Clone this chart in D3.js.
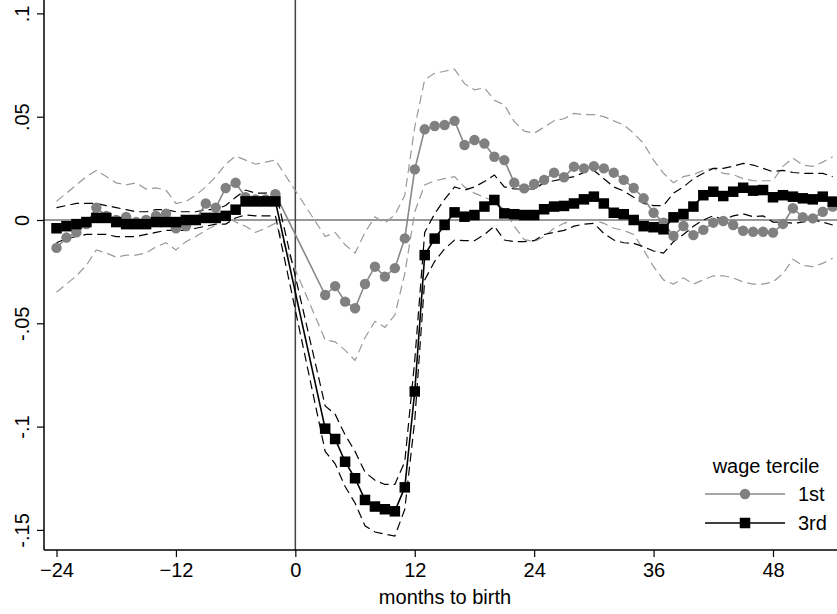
<!DOCTYPE html>
<html><head><meta charset="utf-8">
<script src="https://cdn.jsdelivr.net/npm/d3@7"></script>
<style>
body{margin:0;background:#fff;}
svg{display:block;}
text{font-family:"Liberation Sans",Arial,sans-serif;fill:#000;}
</style>
</head><body>
<svg id="chart" width="837" height="614"></svg>
<script>
// ---- data (months to birth; months -1 to 2 are not reported) ----
const months = [-24,-23,-22,-21,-20,-19,-18,-17,-16,-15,-14,-13,-12,-11,-10,-9,-8,-7,-6,-5,-4,-3,-2,
  3,4,5,6,7,8,9,10,11,12,13,14,15,16,17,18,19,20,21,22,23,24,25,26,27,28,29,30,31,32,33,34,35,36,37,38,39,40,41,42,43,44,45,46,47,48,49,50,51,52,53,54];

const tercile1 = [-0.0135,-0.0085,-0.006,-0.002,0.006,0.002,0.000,0.0015,-0.001,0.000,0.002,0.003,-0.004,-0.003,0.000,0.008,0.006,0.0155,0.018,0.011,0.010,0.010,0.0125,
  -0.0363,-0.032,-0.0395,-0.0427,-0.031,-0.0226,-0.0274,-0.0233,-0.0089,0.0245,
  0.0439,0.0455,0.046,0.048,0.0363,0.0387,0.037,0.0306,0.029,0.018,
  0.0153,0.0174,0.0194,0.0229,0.0207,0.0258,0.025,0.026,0.025,0.0229,
  0.0194,0.0155,0.0105,0.0035,-0.0013,-0.0077,-0.0029,-0.0073,-0.0048,-0.0013,
  -0.0005,-0.0024,-0.0052,-0.0057,-0.0057,-0.0061,-0.0019,0.0057,0.0013,0.0008,
  0.004,0.0065];
const tercile1Hi = [0.009,0.013,0.017,0.021,0.024,0.021,0.018,0.017,0.018,0.015,0.0155,0.0145,0.008,0.009,0.012,0.016,0.021,0.027,0.031,0.029,0.027,0.028,0.029,
  -0.008,-0.006,-0.012,-0.016,-0.006,0.0015,-0.0015,0.0025,0.012,0.045,
  0.068,0.071,0.072,0.073,0.066,0.063,0.064,0.058,0.0557,0.0476,
  0.043,0.042,0.045,0.048,0.049,0.0516,0.051,0.051,0.050,0.048,
  0.046,0.042,0.037,0.029,0.0226,0.018,0.021,0.022,0.024,0.025,
  0.0226,0.022,0.020,0.019,0.019,0.019,0.026,0.030,0.0266,0.026,
  0.028,0.0306];
const tercile1Lo = [-0.035,-0.031,-0.027,-0.022,-0.0145,-0.016,-0.018,-0.017,-0.017,-0.016,-0.013,-0.011,-0.0145,-0.0105,-0.008,-0.005,-0.0024,0.0016,-0.001,-0.003,-0.006,-0.004,-0.0015,
  -0.058,-0.059,-0.063,-0.068,-0.057,-0.049,-0.052,-0.046,-0.026,0.004,
  0.017,0.019,0.020,0.021,0.016,0.013,0.011,0.009,0.005,-0.003,
  -0.0095,-0.0105,-0.008,-0.004,-0.0016,0.000,0.000,0.000,-0.0016,-0.004,
  -0.005,-0.007,-0.0145,-0.0226,-0.029,-0.031,-0.028,-0.031,-0.029,-0.027,
  -0.027,-0.028,-0.030,-0.031,-0.031,-0.030,-0.026,-0.019,-0.022,-0.0226,
  -0.021,-0.0185];

const tercile3 = [-0.004,-0.003,-0.002,-0.001,0.001,0.001,-0.001,-0.002,-0.002,-0.002,-0.001,-0.001,-0.001,0.000,0.000,0.001,0.001,0.002,0.005,0.009,0.009,0.009,0.009,
  -0.101,-0.106,-0.117,-0.125,-0.1355,-0.1387,-0.140,-0.141,-0.1294,-0.083,
  -0.017,-0.009,-0.0024,0.0037,0.0016,0.0024,0.0065,0.0097,0.0032,0.0028,
  0.0024,0.0024,0.0052,0.0065,0.0068,0.008,0.010,0.0113,0.008,0.0035,
  0.0028,0.000,-0.003,-0.0035,-0.0045,0.0013,0.0029,0.0065,0.012,0.0137,
  0.0116,0.0137,0.0156,0.0142,0.0145,0.011,0.012,0.0113,0.0105,0.010,
  0.0113,0.0089];
const tercile3Hi = [0.006,0.007,0.008,0.008,0.008,0.007,0.006,0.005,0.004,0.004,0.005,0.005,0.004,0.004,0.004,0.005,0.005,0.007,0.011,0.0145,0.013,0.013,0.0145,
  -0.090,-0.094,-0.104,-0.112,-0.122,-0.126,-0.128,-0.128,-0.117,-0.068,
  -0.006,0.003,0.010,0.016,0.0145,0.016,0.0186,0.0218,0.016,0.015,
  0.015,0.015,0.018,0.019,0.020,0.021,0.023,0.024,0.020,0.016,
  0.014,0.011,0.008,0.007,0.007,0.013,0.016,0.020,0.0226,0.025,
  0.025,0.026,0.0274,0.0266,0.025,0.0234,0.024,0.023,0.0226,0.0226,
  0.0226,0.021];
const tercile3Lo = [-0.011,-0.009,-0.008,-0.007,-0.007,-0.007,-0.008,-0.008,-0.008,-0.007,-0.006,-0.005,-0.005,-0.005,-0.004,-0.003,-0.002,-0.002,0.001,0.0025,0.002,0.002,0.002,
  -0.112,-0.118,-0.129,-0.137,-0.148,-0.151,-0.152,-0.153,-0.140,-0.097,
  -0.029,-0.020,-0.014,-0.0097,-0.010,-0.010,-0.007,-0.003,-0.0097,-0.0105,
  -0.0105,-0.010,-0.007,-0.006,-0.005,-0.003,-0.002,-0.0016,-0.0065,-0.0097,
  -0.011,-0.0113,-0.013,-0.015,-0.016,-0.0105,-0.007,-0.003,0.000,0.002,
  0.000,0.002,0.003,0.0016,0.002,-0.001,-0.001,-0.0016,-0.001,0.000,
  -0.001,-0.0024];

const xTicks = [-24,-12,0,12,24,36,48];
const yTicks = [0.1,0.05,0,-0.05,-0.1,-0.15];
const yTickLabels = [".1",".05","0","-.05","-.1","-.15"];
const xTitle = "months to birth";
const legendTitle = "wage tercile";
const legendLabels = ["1st","3rd"];

// ---- layout ----
const W = 837, H = 614;
const plotLeft = 44, plotTop = 0, plotBottom = 550, plotRight = 860;
const svg = d3.select("#chart");

const x = d3.scaleLinear().domain([-24, 48]).range([56.5, 773]);
const y = d3.scaleLinear().domain([-0.15, 0.1]).range([529.9, 13.4]);

svg.append("defs").append("clipPath").attr("id","plotclip")
  .append("rect").attr("x", plotLeft).attr("y", plotTop)
  .attr("width", plotRight - plotLeft).attr("height", plotBottom - plotTop);

const plot = svg.append("g").attr("clip-path","url(#plotclip)");

// reference lines
plot.append("line").attr("x1", plotLeft).attr("x2", plotRight)
  .attr("y1", y(0)).attr("y2", y(0)).attr("stroke","#999").attr("stroke-width",1.8);
plot.append("line").attr("x1", x(0)).attr("x2", x(0))
  .attr("y1", plotTop).attr("y2", plotBottom).attr("stroke","#444").attr("stroke-width",1.5);

const mk = arr => months.map((m,i)=>({m:m, v:arr[i]}));
const line = d3.line().x(d=>x(d.m)).y(d=>y(d.v));

const grayCol = "#808080";
// confidence bands (dashed)
[[tercile1Hi,"#999"],[tercile1Lo,"#999"],[tercile3Hi,"#000"],[tercile3Lo,"#000"]].forEach(([arr,col])=>{
  plot.append("path").datum(mk(arr)).attr("d", line)
    .attr("fill","none").attr("stroke", col).attr("stroke-width",1.2)
    .attr("stroke-dasharray","9,5");
});

// 1st tercile
plot.append("path").datum(mk(tercile1)).attr("d", line)
  .attr("fill","none").attr("stroke","#888").attr("stroke-width",1.6);
plot.selectAll("circle.t1").data(mk(tercile1)).join("circle").attr("class","t1")
  .attr("cx", d=>x(d.m)).attr("cy", d=>y(d.v)).attr("r",5.2).attr("fill",grayCol);

// 3rd tercile
plot.append("path").datum(mk(tercile3)).attr("d", line)
  .attr("fill","none").attr("stroke","#000").attr("stroke-width",1.6);
const sq = 10.5;
plot.selectAll("rect.t3").data(mk(tercile3)).join("rect").attr("class","t3")
  .attr("x", d=>x(d.m)-sq/2).attr("y", d=>y(d.v)-sq/2)
  .attr("width", sq).attr("height", sq).attr("fill","#000");

// axes
const xAxis = d3.axisBottom(x).tickValues(xTicks).tickSize(7).tickPadding(6).tickFormat(d3.format("d"));
const gx = svg.append("g").attr("transform",`translate(0,${plotBottom})`).call(xAxis);
gx.select(".domain").remove();
gx.selectAll(".tick line").attr("stroke","#000").attr("stroke-width",1.2);
gx.selectAll(".tick text").style("font-size","20px").attr("fill","#000");
svg.append("line").attr("x1", plotLeft).attr("x2", W).attr("y1", plotBottom).attr("y2", plotBottom)
  .attr("stroke","#000").attr("stroke-width",1.5);

const yAxis = d3.axisLeft(y).tickValues(yTicks).tickSize(7).tickFormat((d,i)=>yTickLabels[i]);
const gy = svg.append("g").attr("transform",`translate(${plotLeft},0)`).call(yAxis);
gy.select(".domain").remove();
gy.selectAll(".tick line").attr("stroke","#000").attr("stroke-width",1.2);
gy.selectAll(".tick text").style("font-size","20px").attr("fill","#000")
  .attr("x",0).attr("dy",0).attr("text-anchor","middle")
  .attr("transform","translate(-15,0) rotate(-90)");
svg.append("line").attr("x1", plotLeft).attr("x2", plotLeft).attr("y1", plotTop).attr("y2", plotBottom)
  .attr("stroke","#000").attr("stroke-width",1.5);

svg.append("text").attr("x", 445).attr("y", 604).attr("text-anchor","middle")
  .style("font-size","20px").text(xTitle);

// legend
const lg = svg.append("g");
lg.append("text").attr("x", 766).attr("y", 473).attr("text-anchor","middle")
  .style("font-size","20px").text(legendTitle);
const legCols = [["#888", "circle"], ["#000", "square"]];
legendLabels.forEach((lab,i)=>{
  const yy = 494 + i*29;
  lg.append("line").attr("x1",705).attr("x2",785).attr("y1",yy).attr("y2",yy)
    .attr("stroke", legCols[i][0]).attr("stroke-width",1.6);
  if (legCols[i][1]==="circle") {
    lg.append("circle").attr("cx",745).attr("cy",yy).attr("r",5.2).attr("fill",grayCol);
  } else {
    lg.append("rect").attr("x",745-sq/2).attr("y",yy-sq/2).attr("width",sq).attr("height",sq).attr("fill","#000");
  }
  lg.append("text").attr("x",798).attr("y",yy+7).style("font-size","20px").text(lab);
});
</script>
</body></html>
